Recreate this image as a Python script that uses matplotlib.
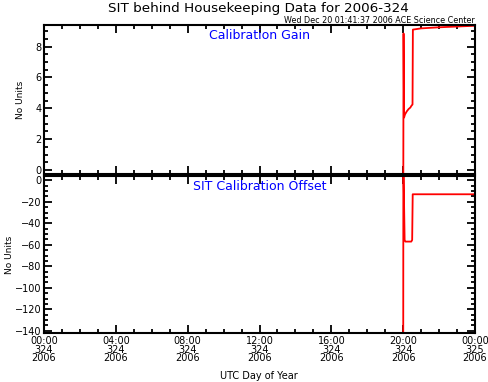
import numpy as np
import matplotlib
matplotlib.use("Agg")
import matplotlib.pyplot as plt
from matplotlib.ticker import FixedLocator, MultipleLocator

# Hours since 00:00 of day 324 (2006) and the values.
gain_hours = [20.0, 20.02, 20.05, 20.1, 20.2, 20.3, 20.4, 20.45, 20.5, 20.52, 20.54,
              21.0, 22.0, 23.0, 24.0]
gain_values = [-5.0, 8.85, 3.4, 3.6, 3.8, 3.95, 4.05, 4.15, 4.22, 4.25, 9.1,
               9.18, 9.25, 9.3, 9.35]

offset_hours = [20.0, 20.01, 20.08, 20.12, 20.45, 20.5, 20.53, 24.0]
offset_values = [-200.0, 20.0, -55.5, -57.0, -57.0, -55.5, -13.0, -13.0]

tick_hours = [0, 4, 8, 12, 16, 20, 24]
tick_labels = ["00:00\n324\n2006", "04:00\n324\n2006", "08:00\n324\n2006",
               "12:00\n324\n2006", "16:00\n324\n2006", "20:00\n324\n2006",
               "00:00\n325\n2006"]

plt.rcParams['font.family'] = ['DejaVu Sans']

fig = plt.figure(figsize=(4.88, 3.82), dpi=100)
ax1 = fig.add_axes([0.0902, 0.5445, 0.8832, 0.3901])
ax2 = fig.add_axes([0.0902, 0.1283, 0.8832, 0.4110])


def style_axis(ax, major_y, minor_y, label_x):
    ax.set_xlim(0, 24)
    ax.xaxis.set_major_locator(FixedLocator(tick_hours))
    ax.xaxis.set_minor_locator(MultipleLocator(1))
    ax.yaxis.set_major_locator(MultipleLocator(major_y))
    ax.yaxis.set_minor_locator(MultipleLocator(minor_y))
    ax.tick_params(which='both', direction='in', top=True, right=True,
                   width=1.3, labelsize=7, pad=2)
    ax.tick_params(which='major', length=6)
    ax.tick_params(which='minor', length=3)
    for sp in ax.spines.values():
        sp.set_linewidth(1.5)
    ax.set_ylabel("No Units", fontsize=6.5)
    ax.yaxis.set_label_coords(label_x, 0.5)


# Calibration gain panel
ax1.plot(gain_hours, gain_values, color='red', linewidth=1.3)
ax1.set_ylim(-0.26, 9.4)
style_axis(ax1, 2, 0.5, -0.044)
ax1.set_xticklabels([])
ax1.text(0.5, 0.93, "Calibration Gain", transform=ax1.transAxes, color='blue',
         ha='center', va='center', fontsize=9)

# Calibration offset panel
ax2.plot(offset_hours, offset_values, color='red', linewidth=1.3)
ax2.set_ylim(-142, 4)
style_axis(ax2, 20, 5, -0.07)
ax2.set_xticklabels(tick_labels, fontsize=7, linespacing=0.85)
ax2.text(0.5, 0.93, "SIT Calibration Offset", transform=ax2.transAxes, color='blue',
         ha='center', va='center', fontsize=9)

fig.text(0.53, 0.016, "UTC Day of Year", ha='center', va='center', fontsize=7)
fig.text(0.53, 0.978, "SIT behind Housekeeping Data for 2006-324",
         ha='center', va='center', fontsize=9.7)
fig.text(0.972, 0.9476, "Wed Dec 20 01:41:37 2006 ACE Science Center",
         ha='right', va='center', fontsize=5.8)

fig.savefig("out.png", dpi=100)
